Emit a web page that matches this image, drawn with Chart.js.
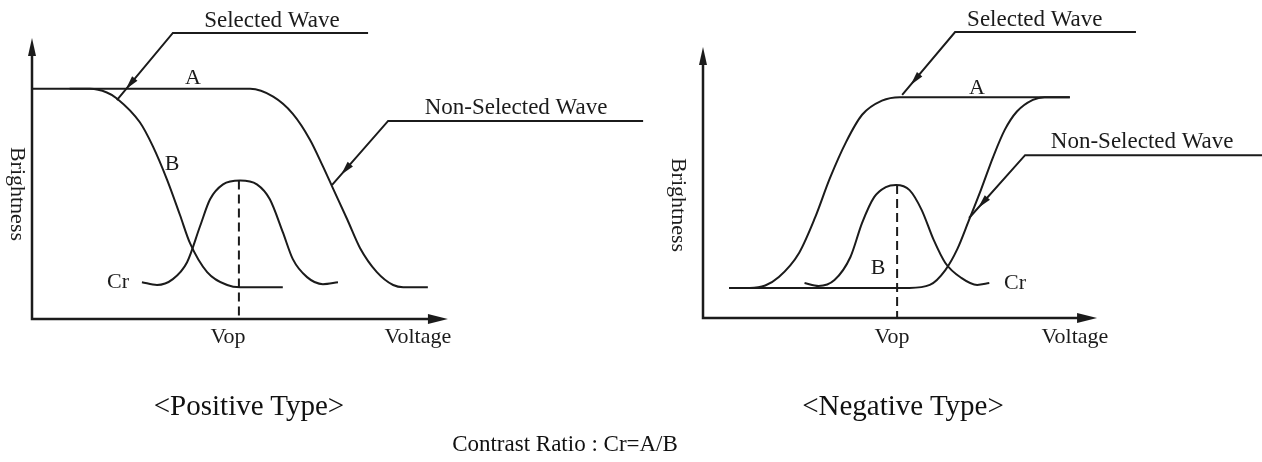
<!DOCTYPE html>
<html>
<head>
<meta charset="utf-8">
<script src="https://cdn.jsdelivr.net/npm/chart.js@4.4.1/dist/chart.umd.min.js"></script>
<style>
  html, body { margin: 0; padding: 0; background: #fff; }
  #wrap { position: relative; width: 1262px; height: 462px; overflow: hidden; }
  canvas { position: absolute; top: 0; }
  #posChart { left: 0; }
  #negChart { left: 631px; }
  .caption {
    position: absolute;
    transform: translate(-50%, -50%);
    font-family: "Liberation Serif", "Times New Roman", serif;
    color: #111;
    white-space: nowrap;
  }
</style>
</head>
<body>
<div id="wrap">
  <canvas id="posChart" width="660" height="462"></canvas>
  <canvas id="negChart" width="631" height="462"></canvas>
  <div class="caption" style="left:249px; top:405px; font-size:29px;">&lt;Positive Type&gt;</div>
  <div class="caption" style="left:903px; top:405px; font-size:29px;">&lt;Negative Type&gt;</div>
  <div class="caption" style="left:565px; top:444px; font-size:23px;">Contrast Ratio : Cr=A/B</div>
</div>
<script>
// values (voltage 0-10, brightness 0-10)
const posNonSelected = [[0, 8.19], [5.22, 8.19], [5.77, 7.91], [6.24, 7.3], [6.65, 6.38], [6.96, 5.43],
  [7.2, 4.65], [7.54, 3.55], [7.85, 2.52], [8.25, 1.67], [8.64, 1.21], [8.88, 1.13], [9.47, 1.13]];
const posSelected = [[0.9, 8.19], [1.39, 8.19], [1.79, 8.06], [2.03, 7.85], [2.58, 7.0], [2.89, 6.15],
  [3.23, 4.96], [3.54, 3.7], [3.78, 2.7], [4.19, 1.67], [4.67, 1.21], [4.98, 1.13], [6.0, 1.13]];
const posCr = [[2.63, 1.31], [2.99, 1.21], [3.37, 1.42], [3.71, 2.02], [4.02, 3.3], [4.26, 4.26], [4.57, 4.79],
  [4.98, 4.93], [5.38, 4.79], [5.69, 4.26], [6.0, 3.09], [6.24, 2.13], [6.58, 1.49], [6.96, 1.24], [7.32, 1.31]];

const negSelected = [[0.67, 1.11], [1.2, 1.11], [1.6, 1.2], [1.95, 1.51], [2.47, 2.4], [2.88, 3.7],
  [3.26, 5.15], [3.68, 6.5], [4.09, 7.5], [4.6, 8.02], [5.06, 8.15], [9.43, 8.15]];
const negNonSelected = [[0.67, 1.11], [5.31, 1.11], [5.83, 1.22], [6.23, 1.77], [6.54, 2.55], [6.84, 3.62],
  [7.15, 4.75], [7.46, 5.95], [7.76, 6.95], [8.07, 7.62], [8.48, 8.05], [8.78, 8.15], [9.43, 8.15]];
const negCr = [[2.61, 1.29], [2.97, 1.18], [3.38, 1.4], [3.79, 2.25], [4.09, 3.51], [4.4, 4.46], [4.7, 4.83],
  [4.96, 4.91], [5.31, 4.72], [5.62, 3.99], [5.93, 2.88], [6.23, 2.03], [6.64, 1.48], [7.05, 1.22], [7.36, 1.29]];

const vopPos = 4.95;
const vopNeg = 4.99;
const crPeakPos = 4.93;
const crPeakNeg = 4.91;

const INK = "#1b1b1b";
const SERIF = '"Liberation Serif", "Times New Roman", serif';

function toPoints(pairs) {
  return pairs.map(([x, y]) => ({ x, y }));
}

function arrowHead(ctx, fx, fy, tx, ty, len, half) {
  const a = Math.atan2(ty - fy, tx - fx);
  ctx.beginPath();
  ctx.moveTo(tx, ty);
  ctx.lineTo(tx - len * Math.cos(a) + half * Math.sin(a), ty - len * Math.sin(a) - half * Math.cos(a));
  ctx.lineTo(tx - len * Math.cos(a) - half * Math.sin(a), ty - len * Math.sin(a) + half * Math.cos(a));
  ctx.closePath();
  ctx.fill();
}

const sketchPlugin = {
  id: "sketch",
  afterDraw(chart, args, o) {
    const { ctx } = chart;
    const sx = chart.scales.x, sy = chart.scales.y;
    const px = (v) => sx.getPixelForValue(v);
    const py = (v) => sy.getPixelForValue(v);
    ctx.save();
    ctx.strokeStyle = INK;
    ctx.fillStyle = INK;

    // axes with arrows
    ctx.lineWidth = 2.5;
    ctx.beginPath();
    ctx.moveTo(px(0), py(o.axisTop) + 10);
    ctx.lineTo(px(0), py(0));
    ctx.lineTo(px(o.axisRight) - 12, py(0));
    ctx.stroke();
    arrowHead(ctx, px(0), py(0), px(0), py(o.axisTop), 18, 4);
    arrowHead(ctx, px(0), py(0), px(o.axisRight), py(0), 20, 5);

    // Vop dashed line
    ctx.lineWidth = 2;
    ctx.setLineDash([9, 5]);
    ctx.beginPath();
    ctx.moveTo(px(o.vop), py(o.peak));
    ctx.lineTo(px(o.vop), py(0));
    ctx.stroke();
    ctx.setLineDash([]);

    // leader lines
    o.leaders.forEach((pts) => {
      ctx.lineWidth = 2;
      ctx.beginPath();
      pts.forEach(([x, y], i) => (i ? ctx.lineTo(px(x), py(y)) : ctx.moveTo(px(x), py(y))));
      ctx.stroke();
      const [x1, y1] = pts[1], [x2, y2] = pts[2];
      const t = 0.84;
      const tx = px(x1) + (px(x2) - px(x1)) * t, ty = py(y1) + (py(y2) - py(y1)) * t;
      arrowHead(ctx, px(x1), py(y1), tx, ty, 14, 3.5);
    });

    // texts
    ctx.textAlign = "center";
    ctx.textBaseline = "middle";
    o.labels.forEach(([text, x, y, size]) => {
      ctx.font = size + "px " + SERIF;
      ctx.fillText(text, px(x), py(y));
    });
    ctx.font = "22px " + SERIF;
    ctx.translate(px(o.yTitle[0]), py(o.yTitle[1]));
    ctx.rotate(Math.PI / 2);
    ctx.fillText("Brightness", 0, 0);
    ctx.restore();
  }
};

function makePanel(id, curves, padding, sketch) {
  return new Chart(document.getElementById(id), {
    type: "scatter",
    data: {
      datasets: curves.map((c) => ({
        data: toPoints(c),
        showLine: true,
        borderColor: INK,
        borderWidth: 2,
        pointRadius: 0,
        fill: false,
        cubicInterpolationMode: "monotone"
      }))
    },
    options: {
      responsive: false,
      animation: false,
      layout: { padding },
      plugins: { legend: { display: false }, tooltip: { enabled: false }, sketch },
      scales: {
        x: { type: "linear", min: 0, max: 10, display: false },
        y: { type: "linear", min: 0, max: 10, display: false }
      }
    },
    plugins: [sketchPlugin]
  });
}

makePanel("posChart", [posNonSelected, posSelected, posCr],
  { left: 32, right: 210, top: 38, bottom: 143 },
  {
    axisTop: 10, axisRight: 9.95, vop: vopPos, peak: crPeakPos,
    leaders: [
      [[8.04, 10.18], [3.37, 10.18], [2.03, 7.79]],
      [[14.62, 7.05], [8.52, 7.05], [7.18, 4.77]]
    ],
    labels: [
      ["Selected Wave", 5.74, 10.62, 23],
      ["Non-Selected Wave", 11.58, 7.5, 23],
      ["A", 3.85, 8.58, 22],
      ["B", 3.35, 5.52, 22],
      ["Cr", 2.06, 1.3, 22],
      ["Vop", 4.69, -0.66, 22],
      ["Voltage", 9.23, -0.66, 22]
    ],
    yTitle: [-0.36, 4.45]
  });

makePanel("negChart", [negSelected, negNonSelected, negCr],
  { left: 72, right: 170, top: 47, bottom: 144 },
  {
    axisTop: 10, axisRight: 10.13, vop: vopNeg, peak: crPeakNeg,
    leaders: [
      [[11.13, 10.55], [6.48, 10.55], [5.12, 8.23]],
      [[14.37, 6.01], [8.28, 6.01], [6.84, 3.69]]
    ],
    labels: [
      ["Selected Wave", 8.53, 11.0, 23],
      ["Non-Selected Wave", 11.29, 6.5, 23],
      ["A", 7.04, 8.48, 22],
      ["B", 4.5, 1.82, 22],
      ["Cr", 8.02, 1.3, 22],
      ["Vop", 4.86, -0.72, 22],
      ["Voltage", 9.56, -0.72, 22]
    ],
    yTitle: [-0.64, 4.17]
  });
</script>
</body>
</html>
